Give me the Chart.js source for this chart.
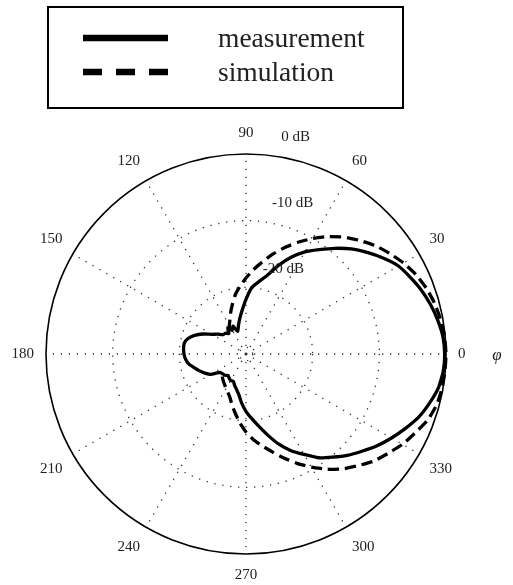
<!DOCTYPE html>
<html><head><meta charset="utf-8">
<script src="https://cdn.jsdelivr.net/npm/chart.js@4.4.1/dist/chart.umd.min.js"></script>
<style>html,body{margin:0;padding:0;background:#fff;}#wrap{width:513px;height:585px;}</style>
</head><body><div id="wrap"><canvas id="c" width="513" height="585"></canvas></div>
<script>
// angle categories (degrees, counter-clockwise from 0 = right)
const angles = [0,5,10,15,20,25,30,35,40,45,50,55,60,65,70,75,80,85,90,95,100,105,110,115,120,125,130,135,140,145,150,155,160,165,170,175,180,185,190,195,200,205,210,215,220,225,230,235,240,245,250,255,260,265,270,275,280,285,290,295,300,305,310,315,320,325,330,335,340,345,350,355];
// normalized pattern, dB
const measurement = [-0.2,-0.35,-0.8,-1.35,-2.0,-2.8,-3.6,-4.9,-6.3,-7.7,-9.3,-10.9,-12.3,-14.0,-15.9,-17.8,-19.0,-20.0,-21.8,-23.4,-24.6,-25.6,-26.4,-25.4,-25.9,-25.2,-26.0,-25.6,-25.5,-24.8,-24.1,-22.9,-21.8,-21.0,-20.6,-20.6,-20.7,-20.9,-21.3,-22.0,-22.6,-23.2,-23.9,-25.2,-25.4,-25.5,-25.8,-25.6,-25.4,-25.5,-25.0,-24.5,-23.8,-22.6,-21.4,-20.3,-19.0,-17.4,-15.6,-14.0,-12.6,-11.0,-9.8,-8.5,-7.3,-6.0,-4.8,-3.6,-2.4,-1.5,-0.7,-0.3];
// simulation is not shown behind the antenna (130..215 deg)
const simulation = [0,-0.1,-0.35,-0.7,-1.2,-1.85,-2.7,-3.7,-4.7,-5.9,-7.1,-8.5,-10.0,-11.5,-13.0,-14.5,-16.0,-17.3,-18.6,-19.8,-20.9,-22.2,-23.3,-24.3,-25.0,-25.7,null,null,null,null,null,null,null,null,null,null,null,null,null,null,null,null,null,null,-25.3,-25.0,-24.7,-24.4,-24.0,-23.6,-23.0,-22.0,-20.9,-19.6,-18.3,-17.1,-16.0,-14.8,-13.4,-11.9,-10.4,-8.9,-7.5,-6.3,-5.0,-4.0,-2.9,-2.0,-1.0,-0.4,-0.15,-0.05];
const seriesNames = ['measurement','simulation'];
const gridTicks = [-29,-20,-10,0];
const dbTicks = [0,-10,-20];
const dbTickLabels = ['0 dB','-10 dB','-20 dB'];
const angleLabelStep = 30;
const axisSymbol = 'φ';

// Chart.js radar runs clockwise: reorder so angle goes counter-clockwise from the right
const order = angles.map((a, i) => (angles.length - i) % angles.length);
const chartLabels = order.map(k => String(angles[k]));
const measData = order.map(k => measurement[k]);
const simData = order.map(k => simulation[k]);

const SERIF = '"Liberation Serif", "Times New Roman", serif';

const extras = {
  id: 'extras',
  afterDraw(chart) {
    const ctx = chart.ctx;
    const sc = chart.scales.r;
    const xc = sc.xCenter, yc = sc.yCenter;
    ctx.save();
    ctx.fillStyle = '#222';
    ctx.font = '15px ' + SERIF;
    ctx.textAlign = 'left';
    ctx.textBaseline = 'middle';
    const th = 82 * Math.PI / 180;
    dbTicks.forEach((v, i) => {
      const r = sc.getDistanceFromCenterForValue(v);
      ctx.fillText(dbTickLabels[i], xc + 7.5 + r * Math.cos(th), yc - r * Math.sin(th) - 19);
    });
    ctx.font = 'italic 17px ' + SERIF;
    ctx.textAlign = 'center';
    ctx.fillText(axisSymbol, xc + sc.drawingArea + 51, yc + 2);
    // legend box
    ctx.strokeStyle = '#000';
    ctx.lineWidth = 2;
    ctx.strokeRect(48, 7, 355, 101);
    const ds = chart.data.datasets;
    const rows = [38, 72];
    ds.forEach((d, i) => {
      ctx.beginPath();
      ctx.lineWidth = 6.5;
      ctx.lineCap = 'butt';
      ctx.setLineDash(d.borderDash && d.borderDash.length ? [19, 14] : []);
      ctx.moveTo(83, rows[i]);
      ctx.lineTo(168, rows[i]);
      ctx.stroke();
      ctx.setLineDash([]);
      ctx.font = '27.5px ' + SERIF;
      ctx.textAlign = 'left';
      ctx.textBaseline = 'middle';
      ctx.fillStyle = '#222';
      ctx.fillText(d.label, 218, rows[i] + 2);
    });
    ctx.restore();
  }
};

new Chart(document.getElementById('c'), {
  type: 'radar',
  data: {
    labels: chartLabels,
    datasets: [
      { label: seriesNames[0], data: measData, borderColor: '#000', borderWidth: 3.3, fill: false, pointRadius: 0, tension: 0.15, spanGaps: false },
      { label: seriesNames[1], data: simData, borderColor: '#000', borderWidth: 3.3, borderDash: [11, 6], fill: false, pointRadius: 0, tension: 0.15, spanGaps: false }
    ]
  },
  options: {
    responsive: false,
    devicePixelRatio: 1,
    animation: false,
    layout: { padding: { left: -13, right: 36, top: 124, bottom: -7 } },
    plugins: { legend: { display: false }, tooltip: { enabled: false } },
    scales: {
      r: {
        min: -30,
        max: 0,
        startAngle: 90,
        afterBuildTicks: (s) => { s.ticks = gridTicks.map(v => ({ value: v })); },
        ticks: { display: false },
        grid: {
          circular: true,
          color: (c) => c.tick && c.tick.value === 0 ? '#000' : '#333',
          lineWidth: (c) => c.tick && c.tick.value === 0 ? 1.6 : 1.3
        },
        border: { dash: (c) => c.tick && c.tick.value === 0 ? [] : [1.3, 6.7] },
        angleLines: {
          color: '#333',
          lineWidth: (c) => (Number(chartLabels[c.index]) % angleLabelStep === 0) ? 1.3 : 0,
          borderDash: [1.3, 6.7]
        },
        pointLabels: {
          display: true,
          padding: 12,
          color: '#222',
          font: { family: SERIF, size: 15 },
          callback: (label) => (Number(label) % angleLabelStep === 0 ? label : '')
        }
      }
    }
  },
  plugins: [extras]
});
</script>
</body></html>
